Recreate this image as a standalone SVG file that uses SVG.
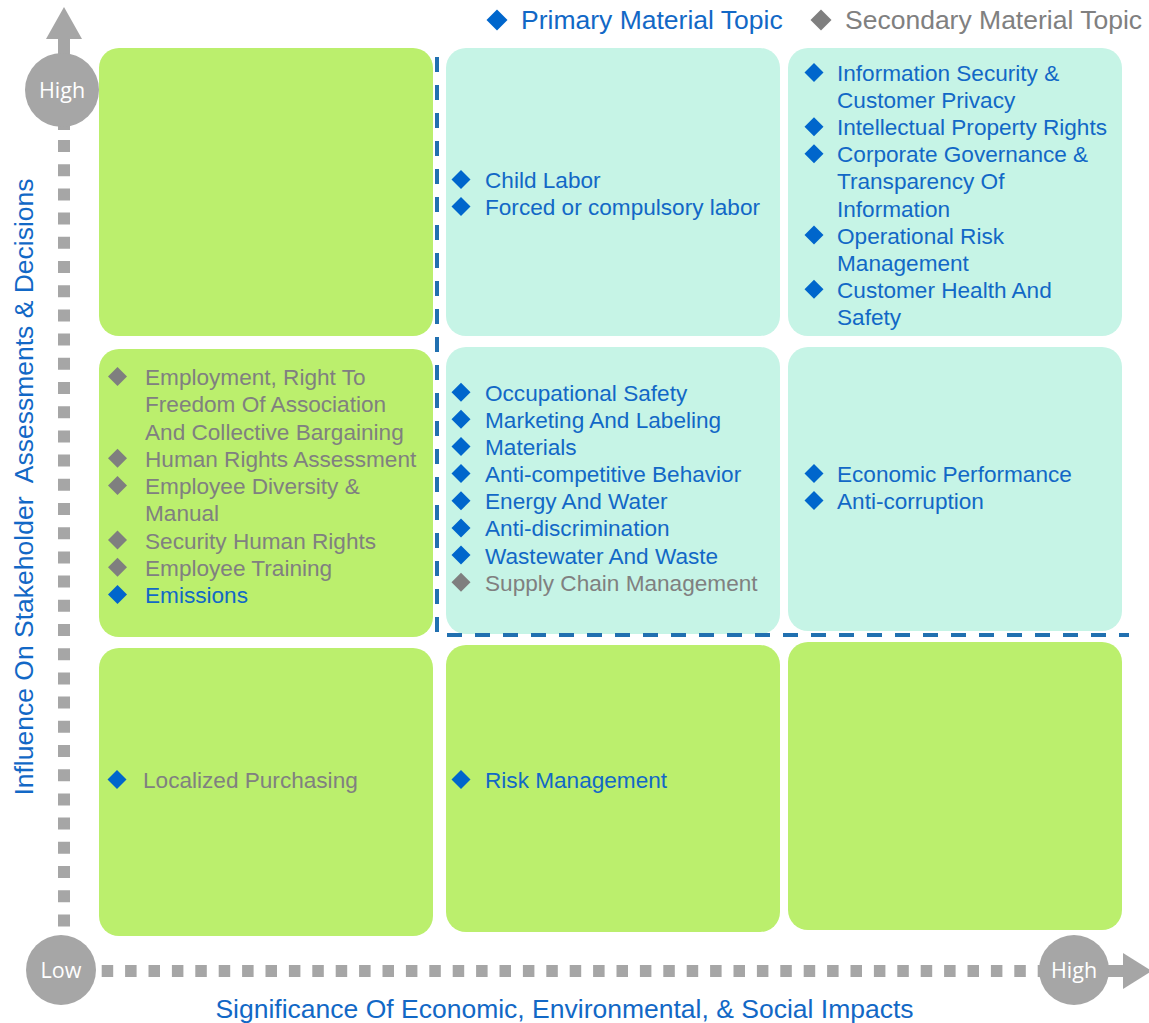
<svg xmlns="http://www.w3.org/2000/svg" xmlns:xlink="http://www.w3.org/1999/xlink" width="1149" height="1023" viewBox="0 0 1149 1023">
<style>
.t{font-family:"Liberation Sans",Arial,sans-serif;font-size:22.6px}
.lg{font-family:"Liberation Sans",Arial,sans-serif;font-size:26.5px}
.p{fill:#1268c6}
.s{fill:#808080}
.g{fill:#bbef6d}
.m{fill:#c6f4e6}
.dp{fill:#0066cc}
.ds{fill:#7f7f7f}
.ax{fill:#a6a6a6}
.ct{font-family:"Open Sans","Liberation Sans",sans-serif;font-size:21.5px;fill:#ffffff;text-anchor:middle}
</style>
<defs>
<path id="d" d="M0,-9.5 L9.5,0 L0,9.5 L-9.5,0Z"/>
<path id="dl" d="M0,-10.5 L10.5,0 L0,10.5 L-10.5,0Z"/>
</defs>
<rect width="1149" height="1023" fill="#ffffff"/>

<g id="legend">
<use xlink:href="#dl" x="497" y="20" class="dp"/>
<text class="lg p" x="521" y="29">Primary Material Topic</text>
<use xlink:href="#dl" x="821" y="20" class="ds"/>
<text class="lg s" x="845" y="29">Secondary Material Topic</text>
</g>

<g id="connectors">
<path d="M64,140 V940" stroke="#a6a6a6" stroke-width="12" stroke-dasharray="12 12.2" fill="none"/>
<path d="M101.7,971 H1040" stroke="#a6a6a6" stroke-width="12" stroke-dasharray="11.5 11.9" fill="none"/>
<rect class="ax" x="58" y="38" width="12" height="18"/>
<rect class="ax" x="58" y="122" width="12" height="8"/>
<polygon class="ax" points="64,7 82,39 46,39"/>
<rect class="ax" x="1106" y="965" width="18" height="12"/>
<polygon class="ax" points="1123,953 1152,971 1123,989"/>
</g>

<g id="axis-high-y">
<circle class="ax" cx="62" cy="90" r="37"/>
<text class="ct" x="62" y="97.5">High</text>
</g>
<g id="axis-low">
<circle class="ax" cx="61" cy="970" r="35"/>
<text class="ct" x="61" y="977.5">Low</text>
</g>
<g id="axis-high-x">
<circle class="ax" cx="1074" cy="970" r="35"/>
<text class="ct" x="1074" y="977.5">High</text>
</g>

<g id="box-r1c1"><rect class="g" x="99" y="48" width="334" height="288" rx="20"/></g>

<g id="box-r1c2">
<rect class="m" x="446" y="48" width="334" height="288" rx="20"/>
<use xlink:href="#d" x="461" y="179.5" class="dp"/>
<text class="t p" x="485" y="188">Child Labor</text>
<use xlink:href="#d" x="461" y="206.5" class="dp"/>
<text class="t p" x="485" y="215">Forced or compulsory labor</text>
</g>

<g id="box-r1c3">
<rect class="m" x="788" y="48" width="334" height="288" rx="20"/>
<use xlink:href="#d" x="814" y="72.5" class="dp"/>
<text class="t p" x="837" y="81">Information Security &amp;</text>
<text class="t p" x="837" y="108.1">Customer Privacy</text>
<use xlink:href="#d" x="814" y="126.7" class="dp"/>
<text class="t p" x="837" y="135.2">Intellectual Property Rights</text>
<use xlink:href="#d" x="814" y="153.8" class="dp"/>
<text class="t p" x="837" y="162.3">Corporate Governance &amp;</text>
<text class="t p" x="837" y="189.4">Transparency Of</text>
<text class="t p" x="837" y="216.5">Information</text>
<use xlink:href="#d" x="814" y="235.1" class="dp"/>
<text class="t p" x="837" y="243.6">Operational Risk</text>
<text class="t p" x="837" y="270.7">Management</text>
<use xlink:href="#d" x="814" y="289.3" class="dp"/>
<text class="t p" x="837" y="297.8">Customer Health And</text>
<text class="t p" x="837" y="324.9">Safety</text>
</g>

<g id="box-r2c1">
<rect class="g" x="99" y="349" width="334" height="288" rx="20"/>
<use xlink:href="#d" x="117.5" y="376.5" class="ds"/>
<text class="t s" x="145" y="385">Employment, Right To</text>
<text class="t s" x="145" y="412.25">Freedom Of Association</text>
<text class="t s" x="145" y="439.5">And Collective Bargaining</text>
<use xlink:href="#d" x="117.5" y="458.25" class="ds"/>
<text class="t s" x="145" y="466.75">Human Rights Assessment</text>
<use xlink:href="#d" x="117.5" y="485.5" class="ds"/>
<text class="t s" x="145" y="494">Employee Diversity &amp;</text>
<text class="t s" x="145" y="521.25">Manual</text>
<use xlink:href="#d" x="117.5" y="540" class="ds"/>
<text class="t s" x="145" y="548.5">Security Human Rights</text>
<use xlink:href="#d" x="117.5" y="567.25" class="ds"/>
<text class="t s" x="145" y="575.75">Employee Training</text>
<use xlink:href="#d" x="117.5" y="594.5" class="dp"/>
<text class="t p" x="145" y="603">Emissions</text>
</g>

<g id="box-r2c2">
<rect class="m" x="446" y="347" width="334" height="287" rx="20"/>
<use xlink:href="#d" x="461" y="392.2" class="dp"/>
<text class="t p" x="485" y="400.7">Occupational Safety</text>
<use xlink:href="#d" x="461" y="419.3" class="dp"/>
<text class="t p" x="485" y="427.8">Marketing And Labeling</text>
<use xlink:href="#d" x="461" y="446.5" class="dp"/>
<text class="t p" x="485" y="455">Materials</text>
<use xlink:href="#d" x="461" y="473.6" class="dp"/>
<text class="t p" x="485" y="482.1">Anti-competitive Behavior</text>
<use xlink:href="#d" x="461" y="500.8" class="dp"/>
<text class="t p" x="485" y="509.3">Energy And Water</text>
<use xlink:href="#d" x="461" y="527.9" class="dp"/>
<text class="t p" x="485" y="536.4">Anti-discrimination</text>
<use xlink:href="#d" x="461" y="555" class="dp"/>
<text class="t p" x="485" y="563.5">Wastewater And Waste</text>
<use xlink:href="#d" x="461" y="582.2" class="ds"/>
<text class="t s" x="485" y="590.7">Supply Chain Management</text>
</g>

<g id="box-r2c3">
<rect class="m" x="788" y="347" width="334" height="284" rx="20"/>
<use xlink:href="#d" x="814" y="473.5" class="dp"/>
<text class="t p" x="837" y="482">Economic Performance</text>
<use xlink:href="#d" x="814" y="500.5" class="dp"/>
<text class="t p" x="837" y="509">Anti-corruption</text>
</g>

<g id="box-r3c1">
<rect class="g" x="99" y="648" width="334" height="288" rx="20"/>
<use xlink:href="#d" x="117" y="779.5" class="dp"/>
<text class="t s" x="143" y="788">Localized Purchasing</text>
</g>

<g id="box-r3c2">
<rect class="g" x="446" y="645" width="334" height="287" rx="20"/>
<use xlink:href="#d" x="461" y="779.5" class="dp"/>
<text class="t p" x="485" y="788">Risk Management</text>
</g>

<g id="box-r3c3"><rect class="g" x="788" y="642" width="334" height="288" rx="20"/></g>

<g id="boundary">
<path d="M437,57 V635 H1129" stroke="#2170b0" stroke-width="4" stroke-dasharray="15 13" fill="none"/>
</g>

<g id="axis-labels">
<text class="lg p" transform="translate(33,487) rotate(-90)" text-anchor="middle" xml:space="preserve">Influence On Stakeholder  Assessments &amp; Decisions</text>
<text class="lg p" x="564.5" y="1018" text-anchor="middle">Significance Of Economic, Environmental, &amp; Social Impacts</text>
</g>
</svg>
